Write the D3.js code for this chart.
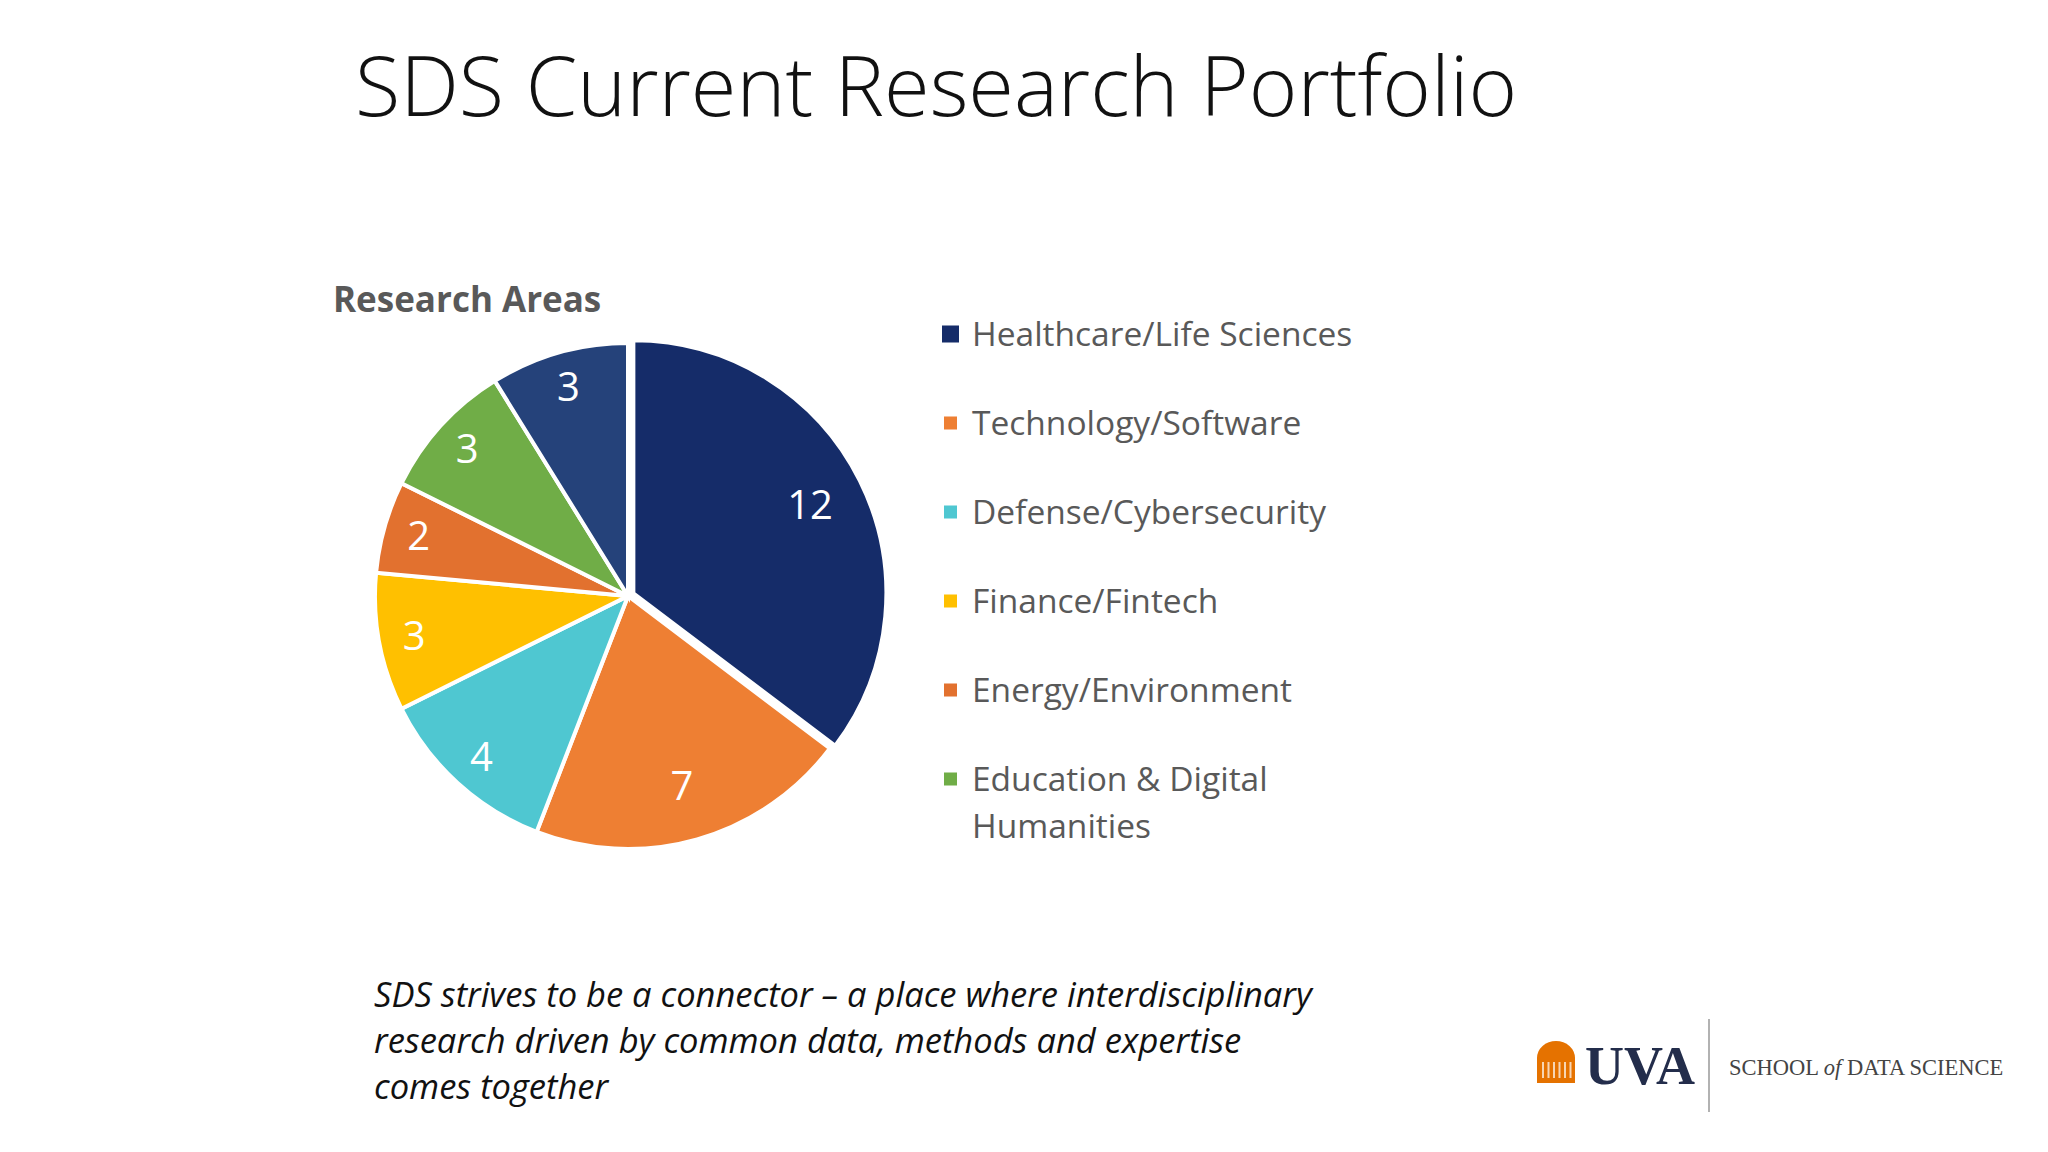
<!DOCTYPE html>
<html>
<head>
<meta charset="utf-8">
<script src="https://cdnjs.cloudflare.com/ajax/libs/d3/7.8.5/d3.min.js"></script>
<style>
  body { margin: 0; background: #fff; }
</style>
</head>
<body>
<svg id="chart" width="2048" height="1152"></svg>
<script>
    // slice values, clockwise from 12 o'clock
    var sliceValues = [12, 7, 4, 3, 2, 3, 3];
    var sliceColors = ['#152c69', '#ee7f33', '#4fc7d1', '#ffc000', '#e2712f', '#70ad47', '#25427a'];
    var legendNames = ['Healthcare/Life Sciences', 'Technology/Software', 'Defense/Cybersecurity',
        'Finance/Fintech', 'Energy/Environment', 'Education & Digital|Humanities'];
    var legendColors = ['#152c69', '#ee7f33', '#4fc7d1', '#ffc000', '#e2712f', '#70ad47'];
    var noteLines = ['SDS strives to be a connector \u2013 a place where interdisciplinary',
        'research driven by common data, methods and expertise', 'comes together'];

    var svg = d3.select('#chart');
    var font = '"Open Sans", sans-serif';

    svg.append('text').attr('x', 355).attr('y', 116)
        .style('font-family', font).style('font-weight', 300).style('font-size', '83px')
        .attr('fill', '#111').text('SDS Current Research Portfolio');

    svg.append('text').attr('x', 333).attr('y', 312)
        .style('font-family', font).style('font-weight', 700).style('font-size', '35px')
        .attr('fill', '#595959').text('Research Areas');

    var cx = 628, cy = 596, r = 253;
    var pie = d3.pie().sort(null)(sliceValues);
    var arc = d3.arc().innerRadius(0).outerRadius(r);
    // small slices get their labels closer to the rim
    function labelPos(d) {
        var lr = r * (d.data >= 7 ? 0.78 : 0.86);
        return d3.arc().innerRadius(lr).outerRadius(lr).centroid(d);
    }
    var g = svg.append('g').attr('transform', 'translate(' + cx + ',' + cy + ')');

    var slices = g.selectAll('g.slice').data(pie).enter().append('g')
        .attr('transform', function (d, i) {
            if (i !== 0) return null;
            var m = (d.startAngle + d.endAngle) / 2;
            return 'translate(' + (Math.sin(m) * 6) + ',' + (-Math.cos(m) * 6) + ')';
        });
    slices.append('path').attr('d', arc)
        .attr('fill', function (d, i) { return sliceColors[i]; })
        .attr('stroke', '#fff').attr('stroke-width', 4);
    slices.append('text')
        .attr('transform', function (d) { return 'translate(' + labelPos(d) + ')'; })
        .attr('text-anchor', 'middle').attr('dy', '0.35em')
        .style('font-family', font).style('font-size', '40px')
        .attr('fill', '#fff').text(function (d) { return d.data; });

    var legend = svg.append('g');
    legendNames.forEach(function (name, i) {
        var y = 346 + i * 89;
        var sz = i === 0 ? 17 : 13;
        legend.append('rect').attr('x', 942 + (17 - sz) / 2).attr('y', y - 12 - sz / 2)
            .attr('width', sz).attr('height', sz).attr('fill', legendColors[i]);
        name.split('|').forEach(function (line, j) {
            legend.append('text').attr('x', 972).attr('y', y + j * 47)
                .style('font-family', font).style('font-size', '33.5px')
                .attr('fill', '#595959').text(line);
        });
    });

    noteLines.forEach(function (line, i) {
        svg.append('text').attr('x', 374).attr('y', 1007 + i * 46)
            .style('font-family', font).style('font-style', 'italic').style('font-size', '34.5px')
            .attr('fill', '#111').text(line);
    });

    // logo
    var logo = svg.append('g');
    logo.append('path').attr('d', 'M1537,1083 L1537,1058 A19,17 0 0 1 1575,1058 L1575,1083 Z').attr('fill', '#e57200');
    for (var k = 0; k < 6; k++) {
        logo.append('rect').attr('x', 1542 + k * 5.5).attr('y', 1062).attr('width', 2).attr('height', 16).attr('fill', '#fff').attr('opacity', 0.7);
    }
    logo.append('text').attr('x', 1585).attr('y', 1084)
        .style('font-family', '"Liberation Serif", serif').style('font-weight', 700).style('font-size', '54px')
        .attr('fill', '#232d4b').text('UVA');
    logo.append('line').attr('x1', 1709).attr('x2', 1709).attr('y1', 1019).attr('y2', 1112)
        .attr('stroke', '#999').attr('stroke-width', 1.5);
    var sch = logo.append('text').attr('x', 1729).attr('y', 1075)
        .style('font-family', '"Liberation Serif", serif').style('font-size', '22.5px').attr('fill', '#444');
    sch.append('tspan').text('SCHOOL ');
    sch.append('tspan').style('font-style', 'italic').text('of');
    sch.append('tspan').text(' DATA SCIENCE');
</script>
</body>
</html>
